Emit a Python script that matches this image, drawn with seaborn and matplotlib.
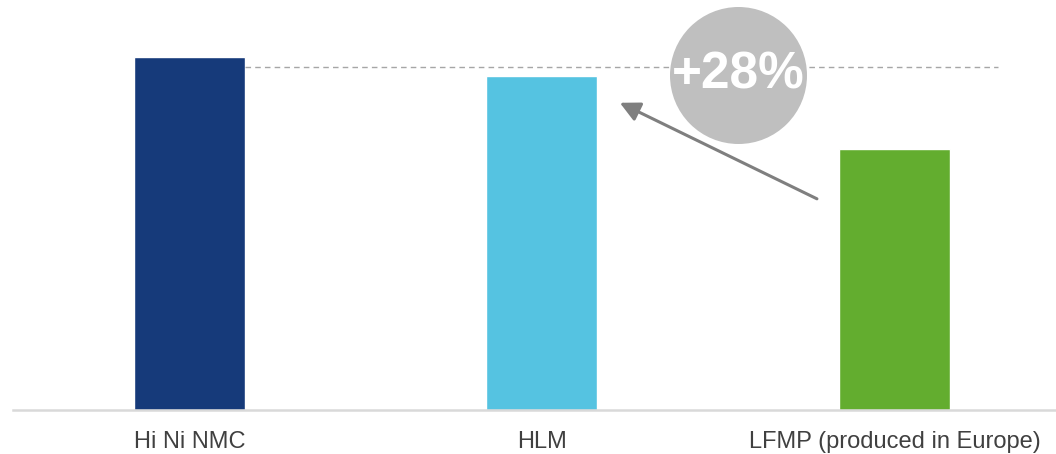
import matplotlib.pyplot as plt
import seaborn as sns
import pandas as pd

# data (relative cost index, Hi Ni NMC = 100)
categories = ['Hi Ni NMC', 'HLM', 'LFMP (produced in Europe)']
values = [100.0, 94.6, 73.9]
colors = ['#163a7a', '#55c3e1', '#63ad2f']
ref_level = 97.2
gain_label = '+28%'

df = pd.DataFrame({'cat': categories, 'val': values})

sns.set_theme(style='white')
plt.rcParams['font.family'] = ['Liberation Sans', 'DejaVu Sans']

fig = plt.figure(figsize=(10.56, 4.54), dpi=100)
ax = fig.add_axes([13 / 1056, 44 / 454, 1043 / 1056, 410 / 454])

sns.barplot(data=df, x='cat', y='val', hue='cat', palette=colors,
            width=0.315, legend=False, ax=ax, saturation=1)

ax.set_xlim(-0.5, 2.458)
ax.set_ylim(0, 116.1)
ax.set_xlabel('')
ax.set_ylabel('')
ax.set_yticks([])
ax.tick_params(axis='x', length=0, pad=15, labelsize=17, labelcolor='#404040')

for s in ['top', 'left', 'right']:
    ax.spines[s].set_visible(False)
ax.spines['bottom'].set_color('#d9d9d9')
ax.spines['bottom'].set_linewidth(1.8)

# dashed reference line from the first bar
ax.plot([0.1575, 2.294], [ref_level, ref_level], ls=(0, (4, 3)), color='#a6a6a6',
        lw=1.0, zorder=1)

# arrow from LFMP to HLM
ax.annotate('', xy=(1.221, 87.0), xytext=(1.780, 59.8),
            arrowprops=dict(arrowstyle='-|>,head_length=1.0,head_width=0.5',
                            color='#7f7f7f', lw=2.2, shrinkA=0, shrinkB=0),
            zorder=3)

# grey badge (diameter ~137 px)
ax.scatter([1.557], [94.9], s=(137 * 0.72) ** 2, color='#bfbfbf', zorder=4,
           clip_on=False, linewidths=0)
ax.text(1.557, 94.9, gain_label, ha='center', va='center', fontsize=37,
        fontweight='bold', color='white', zorder=5)

plt.savefig('out.png', dpi=100)
